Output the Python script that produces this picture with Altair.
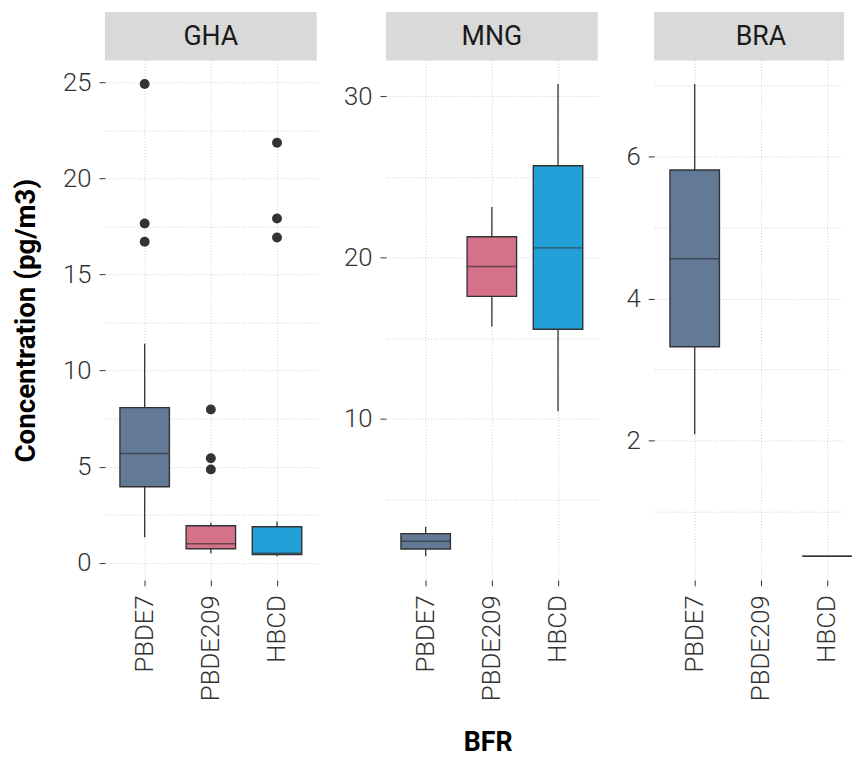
import altair as alt
import pandas as pd

bfrs = ["PBDE7", "PBDE209", "HBCD"]
colors = ["#637A96", "#D6718A", "#24A0D8"]
countries = ["GHA", "MNG", "BRA"]

# box statistics, in bfr order (None = no data)
gha_lower = [1.33, 0.50, 0.34]
gha_q1 = [3.96, 0.73, 0.43]
gha_median = [5.69, 0.99, 0.50]
gha_q3 = [8.07, 1.93, 1.88]
gha_upper = [11.4, 2.09, 2.15]
gha_out_bfr = ["PBDE7", "PBDE7", "PBDE7", "PBDE209", "PBDE209", "PBDE209", "HBCD", "HBCD", "HBCD"]
gha_out_val = [24.9, 17.65, 16.7, 7.98, 5.44, 4.86, 21.85, 17.91, 16.92]

mng_lower = [1.48, 15.73, 10.47]
mng_q1 = [1.93, 17.6, 15.56]
mng_median = [2.42, 19.46, 20.61]
mng_q3 = [2.89, 21.3, 25.7]
mng_upper = [3.32, 23.15, 30.77]
mng_out_bfr = []
mng_out_val = []

bra_lower = [2.09, None, 0.37]
bra_q1 = [3.32, None, 0.37]
bra_median = [4.56, None, 0.37]
bra_q3 = [5.81, None, 0.37]
bra_upper = [7.02, None, 0.37]
bra_out_bfr = []
bra_out_val = []

gha_major, gha_minor = [0, 5, 10, 15, 20, 25], [2.5, 7.5, 12.5, 17.5, 22.5]
mng_major, mng_minor = [10, 20, 30], [5, 15, 25]
bra_major, bra_minor = [2, 4, 6], [1, 3, 5, 7]

FONT = "Roboto"
PH = 525
GRID = "#CCCCCC"


def panel(country, lower, q1, median, q3, upper, out_bfr, out_val,
          major, minor, extent, first, pw, xpad=0.6, xalign=0.5, strip_x=None):
    rows = [dict(bfr=b, lower=l, q1=a, median=m, q3=c, upper=u)
            for b, l, a, m, c, u in zip(bfrs, lower, q1, median, q3, upper) if l is not None]
    df = pd.DataFrame(rows)
    odf = pd.DataFrame({"bfr": out_bfr, "value": out_val})
    allv = [v for v in lower + upper + out_val if v is not None]
    lo, hi = min(allv), max(allv)
    pad = (hi - lo) * 0.05
    dom = [lo - pad, hi + pad]
    vals = sorted(major + minor)
    yaxis = alt.Axis(
        values=vals, format="~g",
        labelExpr=f"indexof({minor}, datum.value) >= 0 ? '' : datum.label",
        tickOpacity={"condition": {"test": f"indexof({minor}, datum.value) >= 0", "value": 0}, "value": 1},
        grid=True, gridColor=GRID, gridDash=[1, 2], gridWidth=1,
        domain=False, ticks=True, tickSize=6, tickColor="#333333",
        labelFont=FONT, labelFontSize=26, labelFontWeight=300, labelColor="#333333",
        labelPadding=8, minExtent=extent, maxExtent=extent,
        title="Concentration (pg/m3)" if first else None,
        titleFont=FONT, titleFontSize=28, titleFontWeight="bold", titleColor="#000000",
        titlePadding=23,
    )
    xs = alt.Scale(type="point", domain=bfrs, padding=xpad, align=xalign)
    xaxis = alt.Axis(
        grid=True, gridColor=GRID, gridDash=[1, 2], gridWidth=1,
        domain=False, tickSize=6, tickColor="#333333",
        labelAngle=270, labelAlign="right", labelBaseline="middle",
        labelFont=FONT, labelFontSize=26, labelFontWeight=300, labelColor="#333333",
        labelPadding=9, title=None,
    )
    ys = alt.Scale(domain=dom, nice=False, zero=False)
    x = alt.X("bfr:N", scale=xs, axis=xaxis)
    color = alt.Color("bfr:N", scale=alt.Scale(domain=bfrs, range=colors), legend=None)

    base = alt.Chart(df)
    wlo = base.mark_rule(color="#333333", strokeWidth=1.3).encode(
        x=x, y=alt.Y("lower:Q", scale=ys, axis=yaxis), y2="q1:Q")
    whi = base.mark_rule(color="#333333", strokeWidth=1.3).encode(
        x=x, y=alt.Y("q3:Q", scale=ys, axis=yaxis), y2="upper:Q")
    box = base.mark_bar(size=50, stroke="#333333", strokeWidth=1.4).encode(
        x=x, y=alt.Y("q1:Q", scale=ys, axis=yaxis), y2="q3:Q", color=color)
    med = base.mark_tick(size=50, thickness=1.5, color="#333333").encode(
        x=x, y=alt.Y("median:Q", scale=ys, axis=yaxis))
    layers = [wlo, whi, box, med]
    if len(odf):
        pts = alt.Chart(odf).mark_circle(size=100, color="#333333", opacity=1).encode(
            x=x, y=alt.Y("value:Q", scale=ys, axis=yaxis))
        layers.append(pts)
    sdf = pd.DataFrame({"country": [country]})
    strip = alt.Chart(sdf).mark_rect(color="#D9D9D9").encode(
        x=alt.value(0), x2=alt.value(pw), y=alt.value(-49), y2=alt.value(0))
    stext = alt.Chart(sdf).mark_text(font=FONT, fontSize=27, color="#1A1A1A",
                                     baseline="middle", align="center").encode(
        x=alt.value(pw / 2 if strip_x is None else strip_x), y=alt.value(-24), text="country:N")
    layers += [strip, stext]
    return alt.layer(*layers).properties(width=pw, height=PH)


p1 = panel("GHA", gha_lower, gha_q1, gha_median, gha_q3, gha_upper, gha_out_bfr, gha_out_val,
           gha_major, gha_minor, 42, True, 214)
p2 = panel("MNG", mng_lower, mng_q1, mng_median, mng_q3, mng_upper, mng_out_bfr, mng_out_val,
           mng_major, mng_minor, 70, False, 214)
# last panel is cut at the right edge of the picture
p3 = panel("BRA", bra_lower, bra_q1, bra_median, bra_q3, bra_upper, bra_out_bfr, bra_out_val,
           bra_major, bra_minor, 57, False, 192, xpad=0.4355, xalign=0.704, strip_x=108)

chart = alt.hconcat(p1, p2, p3, spacing=0).properties(
    title=alt.TitleParams(text="BFR", orient="bottom", anchor="middle", font=FONT,
                          fontSize=27, fontWeight="bold", color="#000000", offset=30, dx=56),
    padding={"left": 5, "top": 0, "right": 0, "bottom": 0},
).configure_view(stroke=None).configure_concat(spacing=0)

chart.save("out.html", embed_options={"renderer": "svg", "actions": False})
